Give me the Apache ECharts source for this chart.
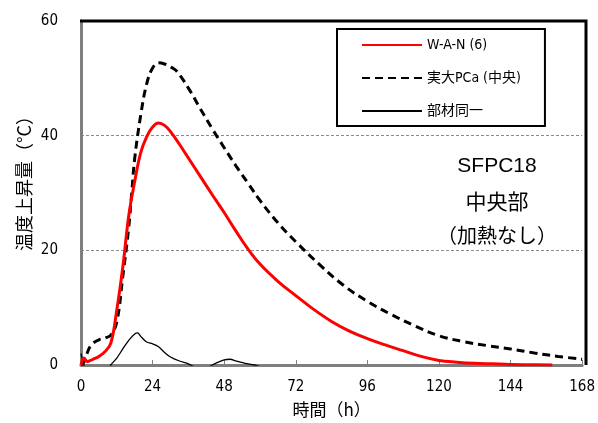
<!DOCTYPE html>
<html>
<head>
<meta charset="utf-8">
<script src="https://cdn.jsdelivr.net/npm/echarts@6/dist/echarts.min.js"></script>
<style>
  html, body { margin: 0; padding: 0; background: #fff; }
  #chart { width: 598px; height: 423px; }
</style>
</head>
<body>
<div id="chart"></div>
<script>
// 凡例名
var seriesNames = ["W-A-N (6)", "実大PCa (中央)", "部材同一"]

// W-A-N (6) 赤線
var wanTime = [0, 1, 2, 4, 6, 8, 10, 12, 14, 16, 18, 20, 22, 24, 26, 28, 30, 33, 36, 40, 44, 48, 52, 56, 60, 66, 72, 78, 84, 90, 96, 102, 108, 114, 120, 126, 132, 138, 144, 150, 158]
var wanTemp = [0, 1.2, 0.6, 1.0, 1.5, 2.3, 3.8, 9.6, 17, 26, 32, 37, 39.8, 41.5, 42.2, 41.8, 40.7, 38.5, 36.1, 32.9, 29.7, 26.6, 23.3, 20.2, 17.6, 14.6, 12.1, 9.7, 7.6, 5.9, 4.6, 3.5, 2.5, 1.5, 0.8, 0.5, 0.3, 0.2, 0.1, 0.05, 0]

// 実大PCa (中央) 破線
var pcaTime = [0, 1, 2, 3, 4, 6, 8, 10, 12, 14, 16, 17, 18, 20, 22, 24, 26, 28, 30, 32, 36, 40, 44, 48, 52, 56, 60, 66, 72, 80, 88, 96, 104, 112, 120, 128, 136, 144, 152, 160, 168]
var pcaTemp = [0, 0.5, 2, 3.2, 3.8, 4.4, 4.7, 5.2, 7.5, 15.4, 24, 30, 36, 43.5, 49, 51.8, 52.7, 52.5, 52, 51.3, 48.3, 44.7, 41.2, 37.9, 34.7, 31.7, 28.7, 24.8, 21.5, 17.5, 13.9, 11.1, 8.8, 6.8, 5.1, 4.1, 3.4, 2.8, 2.1, 1.5, 1.0]

// 部材同一 細線
var sameTime = [0, 1, 2, 9, 10, 12, 14, 16, 18, 19, 20, 22, 24, 26, 28, 30, 33, 36, 38, 42, 44, 46, 48, 50, 52, 55, 58, 60]
var sameTemp = [2, 0, -1, -1, 0, 1.2, 2.8, 4.3, 5.4, 5.6, 5, 4, 3.7, 3.2, 2.2, 1.4, 0.7, 0.2, -0.3, -0.5, 0, 0.5, 0.9, 1.0, 0.7, 0.3, 0, -0.3]

// 軸目盛
var xTicks = [0, 24, 48, 72, 96, 120, 144, 168]
var yTicks = [0, 20, 40, 60]

function pairs(xs, ys) {
    return xs.map(function(x, i) { return [x, ys[i]] })
}

var latinFont = "'Liberation Sans Narrow', 'DejaVu Sans Condensed', 'Noto Sans CJK JP', sans-serif"
var cjkFont = "'Noto Sans CJK JP', sans-serif"

// グリッド位置
var gridLeft = 81, gridRight = 12, gridTop = 21, gridBottom = 58
var W = 598, H = 423

var myEcharts = echarts.init(document.getElementById("chart"), null, { renderer: "canvas" })
var option = {
    animation: false,
    backgroundColor: "#fff",
    grid: {
        left: gridLeft, right: gridRight, top: gridTop, bottom: gridBottom,
        show: false
    },
    legend: {
        orient: "vertical",
        left: 337,
        top: 29,
        data: seriesNames,
        itemWidth: 60,
        itemHeight: 14,
        itemGap: 19,
        padding: [9, 24, 8, 24],
        borderColor: "#000",
        borderWidth: 2,
        backgroundColor: "#fff",
        itemStyle: { opacity: 0 },
        textStyle: { fontFamily: latinFont, fontSize: 14, color: "#000", lineHeight: 14 }
    },
    xAxis: {
        type: "value",
        min: 0, max: 168, interval: 24,
        name: "時間（h）",
        nameLocation: "middle",
        nameGap: 36,
        nameTextStyle: { fontFamily: cjkFont, fontSize: 17, color: "#000" },
        axisLine: { show: true, onZero: false, lineStyle: { color: "#7f7f7f", width: 3 } },
        axisTick: { show: true, inside: true, length: 5, lineStyle: { color: "#7f7f7f", width: 1 } },
        axisLabel: {
            margin: 15, fontFamily: latinFont, fontSize: 15, color: "#000",
            formatter: function(v) { return xTicks.indexOf(v) >= 0 ? String(v) : "" }
        },
        splitLine: { show: false }
    },
    yAxis: {
        type: "value",
        min: 0, max: 60, interval: 20,
        axisLine: { show: true, onZero: false, lineStyle: { color: "#7f7f7f", width: 3 } },
        axisTick: { show: false },
        axisLabel: {
            margin: 23, fontFamily: latinFont, fontSize: 15, color: "#000",
            formatter: function(v) { return yTicks.indexOf(v) >= 0 ? String(v) : "" }
        },
        splitLine: { show: true, lineStyle: { color: "#8c8c8c", type: [3, 2], width: 1 } }
    },
    graphic: [
        // 上辺・右辺の枠線
        {
            type: "polyline", z: 100, silent: true,
            shape: { points: [[gridLeft - 1, gridTop], [W - gridRight, gridTop], [W - gridRight, H - gridBottom]] },
            style: { stroke: "#000", lineWidth: 3, fill: null }
        },
        {
            type: "text", x: 24, y: 179, rotation: Math.PI / 2,
            style: { text: "温度上昇量（°C）", fontFamily: cjkFont, fontSize: 18, fill: "#000", align: "center", verticalAlign: "middle" }
        },
        {
            type: "text", x: 497, y: 166,
            style: { text: "SFPC18", fontFamily: "'Liberation Sans', sans-serif", fontSize: 21, fill: "#000", align: "center", verticalAlign: "middle" }
        },
        {
            type: "text", x: 497, y: 201,
            style: { text: "中央部", fontFamily: cjkFont, fontSize: 21, fill: "#000", align: "center", verticalAlign: "middle" }
        },
        {
            type: "text", x: 497, y: 235,
            style: { text: "（加熱なし）", fontFamily: cjkFont, fontSize: 20, fill: "#000", align: "center", verticalAlign: "middle" }
        }
    ],
    series: [
        {
            name: seriesNames[0], type: "line", symbol: "none", smooth: 0.4, z: 4,
            lineStyle: { color: "#ff0000", width: 3 },
            itemStyle: { color: "#ff0000" },
            data: pairs(wanTime, wanTemp)
        },
        {
            name: seriesNames[1], type: "line", symbol: "none", smooth: 0.4, z: 3,
            lineStyle: { color: "#000", width: 3, type: [8, 5] },
            itemStyle: { color: "#000" },
            data: pairs(pcaTime, pcaTemp)
        },
        {
            name: seriesNames[2], type: "line", symbol: "none", smooth: 0.3, z: 2,
            lineStyle: { color: "#000", width: 1.3 },
            itemStyle: { color: "#000" },
            data: pairs(sameTime, sameTemp)
        }
    ]
}
myEcharts.setOption(option)
</script>
</body>
</html>
